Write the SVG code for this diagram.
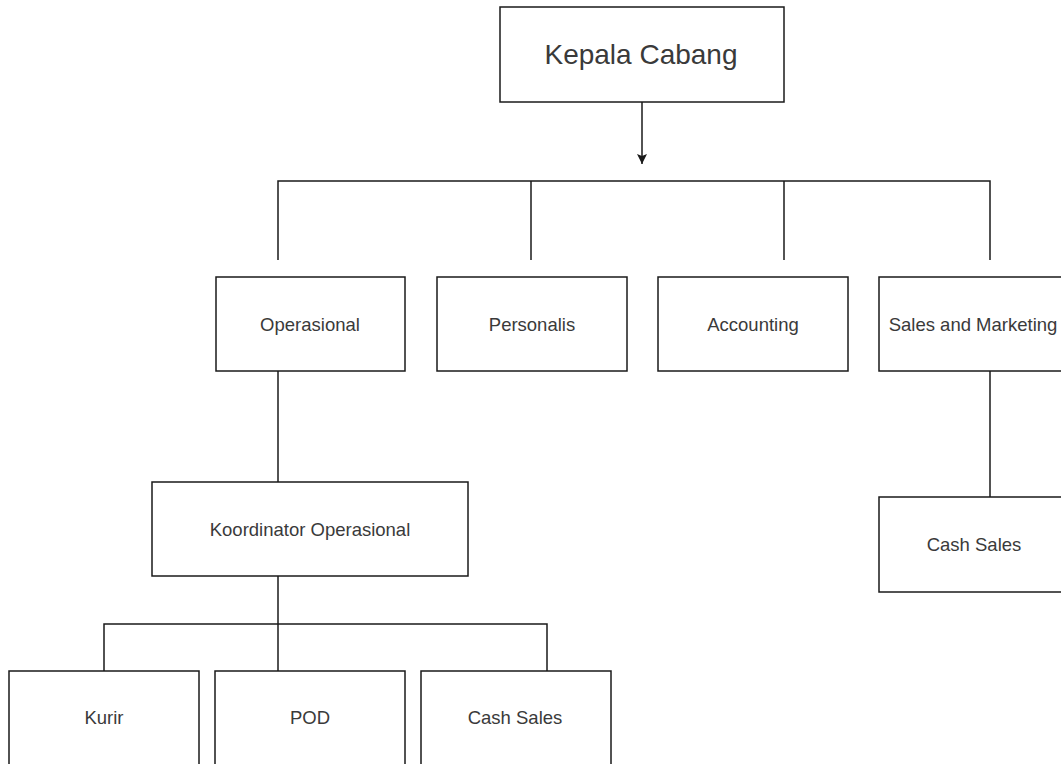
<svg xmlns="http://www.w3.org/2000/svg" width="1061" height="764" viewBox="0 0 1061 764">
<style>
.box{fill:#fff;stroke:#1a1a1a;stroke-width:1.5}
.lbl{font-family:"Liberation Sans",Arial,sans-serif;font-size:18.5px;fill:#3a3a3a;text-anchor:middle}
.big{font-size:28px}
.ln{fill:none;stroke:#1a1a1a;stroke-width:1.5}
</style>
<defs>
<marker id="arr" markerWidth="12" markerHeight="12" refX="10" refY="6" orient="auto" markerUnits="userSpaceOnUse" viewBox="0 0 12 12">
<path d="M0,1 L10,6 L0,11 L2,6 Z" fill="#1a1a1a"/>
</marker>
</defs>
<rect width="1061" height="764" fill="#fff"/>
<g id="connectors">
<line class="ln" x1="642" y1="102" x2="642" y2="164" marker-end="url(#arr)"/>
<path class="ln" d="M278,260 V181 H990 V260"/>
<line class="ln" x1="531" y1="181" x2="531" y2="260" stroke="#555"/>
<line class="ln" x1="784" y1="181" x2="784" y2="260"/>
<line class="ln" x1="278" y1="371" x2="278" y2="482"/>
<line class="ln" x1="278" y1="576" x2="278" y2="671"/>
<path class="ln" d="M104,671 V624 H547 V671"/>
<line class="ln" x1="990" y1="371" x2="990" y2="497"/>
</g>
<g id="kepala"><rect class="box" x="500" y="7" width="284" height="95"/><text class="lbl big" x="641" y="64">Kepala Cabang</text></g>
<g id="operasional"><rect class="box" x="216" y="277" width="189" height="94"/><text class="lbl" x="310" y="331">Operasional</text></g>
<g id="personalis"><rect class="box" x="437" y="277" width="190" height="94"/><text class="lbl" x="532" y="331">Personalis</text></g>
<g id="accounting"><rect class="box" x="658" y="277" width="190" height="94"/><text class="lbl" x="753" y="331">Accounting</text></g>
<g id="sales"><rect class="box" x="879" y="277" width="190" height="94"/><text class="lbl" x="973" y="331">Sales and Marketing</text></g>
<g id="koordinator"><rect class="box" x="152" y="482" width="316" height="94"/><text class="lbl" x="310" y="536">Koordinator Operasional</text></g>
<g id="cashsales2"><rect class="box" x="879" y="497" width="190" height="95"/><text class="lbl" x="974" y="551">Cash Sales</text></g>
<g id="kurir"><rect class="box" x="9" y="671" width="190" height="100"/><text class="lbl" x="104" y="724">Kurir</text></g>
<g id="pod"><rect class="box" x="215" y="671" width="190" height="100"/><text class="lbl" x="310" y="724">POD</text></g>
<g id="cashsales1"><rect class="box" x="421" y="671" width="190" height="100"/><text class="lbl" x="515" y="724">Cash Sales</text></g>
</svg>
